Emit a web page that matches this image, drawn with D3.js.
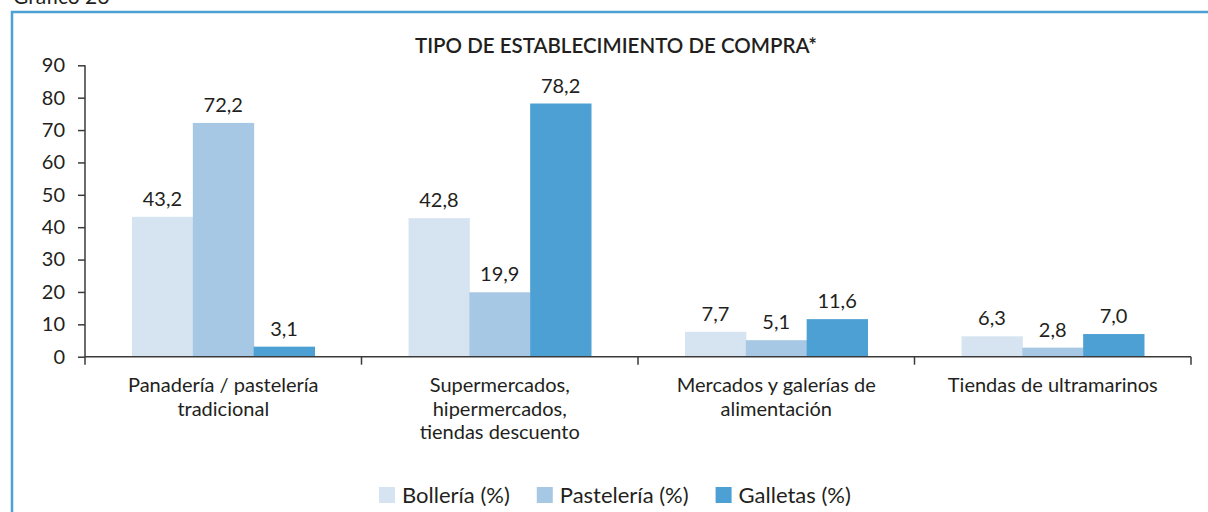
<!DOCTYPE html>
<html>
<head>
<meta charset="utf-8">
<script src="https://cdn.jsdelivr.net/npm/d3@7"></script>
<style>
  body { margin: 0; background: #fff; }
  svg { display: block; font-family: Lato, "Open Sans", sans-serif; }
</style>
</head>
<body>
<div id="chart"></div>
<script>
const categories = [
  ["Panadería / pastelería", "tradicional"],
  ["Supermercados,", "hipermercados,", "tiendas descuento"],
  ["Mercados y galerías de", "alimentación"],
  ["Tiendas de ultramarinos"]
];
const seriesNames = ["Bollería (%)", "Pastelería (%)", "Galletas (%)"];
const bolleria = [43.2, 42.8, 7.7, 6.3];
const pasteleria = [72.2, 19.9, 5.1, 2.8];
const galletas = [3.1, 78.2, 11.6, 7.0];
const yTicks = [0, 10, 20, 30, 40, 50, 60, 70, 80, 90];
const colors = ["#d6e4f1", "#a6c8e5", "#4ca0d3"];

const width = 1208;
const height = 512;
const ink = "#231f20";

const series = [bolleria, pasteleria, galletas];

const svg = d3.select("#chart").append("svg")
  .attr("width", width)
  .attr("height", height);

// frame
svg.append("path")
  .attr("d", "M12,514 V12 H1210")
  .attr("fill", "none")
  .attr("stroke", "#4ea1d4")
  .attr("stroke-width", 2.5);

svg.append("text")
  .attr("x", 13)
  .attr("y", 4)
  .attr("font-size", 21)
  .attr("fill", ink)
  .text("Gráfico 26");

const x = d3.scaleBand()
  .domain(d3.range(categories.length))
  .range([85, 1191])
  .paddingInner(0.34)
  .paddingOuter(0.17);

const xs = d3.scaleBand()
  .domain(d3.range(series.length))
  .range([0, x.bandwidth()]);

const y = d3.scaleLinear()
  .domain([0, 90])
  .range([356.7, 65.3]);

// title
svg.append("text")
  .attr("x", 616)
  .attr("y", 53)
  .attr("text-anchor", "middle")
  .attr("font-size", 20.5)
  .attr("font-weight", 600)
  .attr("fill", ink)
  .text("TIPO DE ESTABLECIMIENTO DE COMPRA*");

// bars
const groups = svg.selectAll("g.cat")
  .data(categories)
  .join("g")
  .attr("class", "cat")
  .attr("transform", (d, i) => `translate(${x(i)},0)`);

const fmt = v => d3.format(".1f")(v).replace(".", ",");

groups.each(function (c, i) {
  const g = d3.select(this);
  const vals = series.map((s, k) => ({ k, v: s[i] }));
  g.selectAll("rect")
    .data(vals)
    .join("rect")
    .attr("x", d => xs(d.k))
    .attr("y", d => y(d.v))
    .attr("width", xs.bandwidth() + 0.5)
    .attr("height", d => y(0) - y(d.v))
    .attr("fill", d => colors[d.k]);
  g.selectAll("text.val")
    .data(vals)
    .join("text")
    .attr("class", "val")
    .attr("x", d => xs(d.k) + xs.bandwidth() / 2)
    .attr("y", d => y(d.v) - 11)
    .attr("text-anchor", "middle")
    .attr("font-size", 20)
    .attr("fill", ink)
    .text(d => fmt(d.v));
});

// y axis
const yAxis = svg.append("g")
  .attr("transform", "translate(85,0)")
  .call(d3.axisLeft(y).tickValues(yTicks).tickSize(7).tickPadding(13));
yAxis.select(".domain").remove();
yAxis.selectAll(".tick line").attr("stroke", "#3a3a3a").attr("stroke-width", 1.5);
yAxis.selectAll(".tick text")
  .attr("font-family", "Lato, sans-serif")
  .attr("font-size", 20)
  .attr("fill", ink);

svg.append("line")
  .attr("x1", 85).attr("x2", 85)
  .attr("y1", y(90)).attr("y2", y(0) + 8)
  .attr("stroke", "#3a3a3a")
  .attr("stroke-width", 1.5);

// x axis
svg.append("line")
  .attr("x1", 85).attr("x2", 1191)
  .attr("y1", y(0)).attr("y2", y(0))
  .attr("stroke", "#3a3a3a")
  .attr("stroke-width", 1.5);

const step = x.step();
const bounds = d3.range(1, categories.length + 1)
  .map(i => x(i - 1) + x.bandwidth() + step * x.paddingInner() / 2);
svg.selectAll("line.xtick")
  .data(bounds)
  .join("line")
  .attr("class", "xtick")
  .attr("x1", d => d).attr("x2", d => d)
  .attr("y1", y(0)).attr("y2", y(0) + 8)
  .attr("stroke", "#3a3a3a")
  .attr("stroke-width", 1.5);

// category labels
svg.selectAll("text.cat")
  .data(categories)
  .join("text")
  .attr("class", "cat")
  .attr("text-anchor", "middle")
  .attr("font-size", 20)
  .attr("fill", ink)
  .each(function (lines, i) {
    d3.select(this).selectAll("tspan")
      .data(lines)
      .join("tspan")
      .attr("x", x(i) + x.bandwidth() / 2)
      .attr("y", (l, j) => 392 + j * 23.5)
      .text(l => l);
  });

// legend
const legend = svg.append("g").attr("transform", "translate(379,487)");
let lx = 0;
seriesNames.forEach((name, k) => {
  legend.append("rect")
    .attr("x", lx).attr("y", 0)
    .attr("width", 16).attr("height", 16)
    .attr("fill", colors[k]);
  const t = legend.append("text")
    .attr("x", lx + 23)
    .attr("y", 16)
    .attr("font-size", 22)
    .attr("fill", ink)
    .text(name);
  lx += 23 + t.node().getComputedTextLength() + 27;
});
</script>
</body>
</html>
